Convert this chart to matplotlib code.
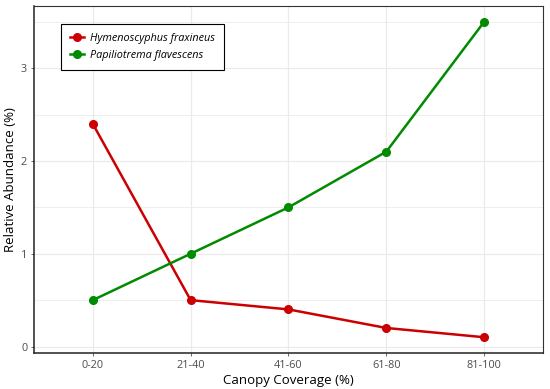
import numpy as np
import matplotlib.pyplot as plt
from matplotlib.ticker import MultipleLocator

categories = ['0-20', '21-40', '41-60', '61-80', '81-100']
hymeno = [2.4, 0.5, 0.4, 0.2, 0.1]
papilio = [0.5, 1.0, 1.5, 2.1, 3.5]

plt.rcParams['font.family'] = ['Open Sans', 'DejaVu Sans']

fig = plt.figure(figsize=(5.5, 3.89), dpi=100)
ax = fig.add_axes([0.062, 0.0925, 0.925, 0.892])

x = np.arange(len(categories))
ax.plot(x, hymeno, color='#CC0000', lw=1.8, marker='o', ms=5.5,
        label='Hymenoscyphus fraxineus', zorder=3)
ax.plot(x, papilio, color='#008B00', lw=1.8, marker='o', ms=5.5,
        label='Papiliotrema flavescens', zorder=3)

ax.set_xlim(-0.6, 4.6)
ax.set_ylim(-0.07, 3.67)
ax.set_xticks(x)
ax.set_xticklabels(categories)
ax.yaxis.set_major_locator(MultipleLocator(1))
ax.yaxis.set_minor_locator(MultipleLocator(0.5))
ax.grid(True, which='major', color='#EBEBEB', lw=0.9)
ax.grid(True, which='minor', axis='y', color='#EBEBEB', lw=0.6)
ax.set_axisbelow(True)

ax.tick_params(axis='both', which='major', labelsize=7.8, colors='#4D4D4D',
               length=2.5, width=0.6, pad=2.5)
ax.tick_params(axis='y', which='minor', length=0)
for s in ['top', 'right']:
    ax.spines[s].set_color('#333333')
    ax.spines[s].set_linewidth(0.8)
for s in ['left', 'bottom']:
    ax.spines[s].set_color('#222222')
    ax.spines[s].set_linewidth(1.1)

ax.set_xlabel('Canopy Coverage (%)', fontsize=9.5, labelpad=2)
ax.set_ylabel('Relative Abundance (%)', fontsize=9.5, labelpad=3)

leg = ax.legend(loc='upper left', bbox_to_anchor=(0.042, 0.963),
                prop={'style': 'italic', 'size': 7.8}, fancybox=False,
                framealpha=1, edgecolor='black', handlelength=1.3,
                handletextpad=0.6, borderpad=0.8, labelspacing=0.55)
leg.get_frame().set_linewidth(0.8)

plt.savefig('out.png', dpi=100)
